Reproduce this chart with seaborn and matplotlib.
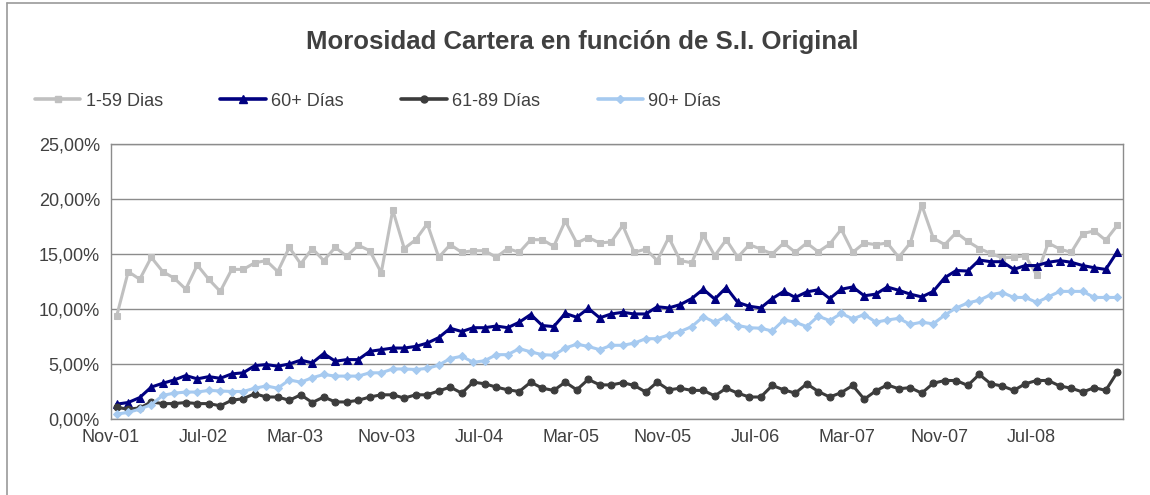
import matplotlib
matplotlib.use("Agg")
import matplotlib.pyplot as plt
from matplotlib.lines import Line2D
import seaborn as sns
import pandas as pd
import numpy as np

# ---- data (values in %) ----
months = ["Nov-01", "Jul-02", "Mar-03", "Nov-03", "Jul-04", "Mar-05",
          "Nov-05", "Jul-06", "Mar-07", "Nov-07", "Jul-08"]

d_1_59 = [9.4, 13.4, 12.7, 14.7, 13.4, 12.8, 11.8, 14.0, 12.7, 11.6,
          13.6, 13.6, 14.2, 14.4, 13.4, 15.6, 14.1, 15.5, 14.4, 15.6,
          14.8, 15.8, 15.3, 13.3, 19.0, 15.5, 16.3, 17.75, 14.7, 15.85,
          15.15, 15.3, 15.3, 14.7, 15.5, 15.15, 16.3, 16.3, 15.7, 18.0,
          16.0, 16.5, 16.0, 16.1, 17.6, 15.15, 15.45, 14.4, 16.5, 14.4,
          14.2, 16.7, 14.85, 16.3, 14.7, 15.85, 15.45, 15.0, 16.0, 15.15,
          16.0, 15.2, 15.9, 17.25, 15.15, 16.0, 15.85, 16.0, 14.7, 16.0,
          19.45, 16.45, 15.85, 16.95, 16.15, 15.5, 15.05, 14.65, 14.7, 14.85,
          13.1, 16.0, 15.45, 15.15, 16.85, 17.1, 16.25, 17.6]

d_60p = [1.35, 1.5, 1.95, 2.9, 3.25, 3.55, 3.95, 3.65, 3.85, 3.7,
         4.1, 4.2, 4.85, 4.95, 4.8, 5.0, 5.35, 5.1, 5.95, 5.25,
         5.4, 5.4, 6.15, 6.3, 6.45, 6.45, 6.6, 6.9, 7.4, 8.25,
         7.95, 8.3, 8.3, 8.45, 8.3, 8.8, 9.5, 8.5, 8.4, 9.6,
         9.25, 10.05, 9.2, 9.55, 9.7, 9.55, 9.55, 10.2, 10.1, 10.4,
         10.95, 11.8, 10.9, 11.95, 10.6, 10.25, 10.1, 10.95, 11.6, 11.05,
         11.55, 11.75, 10.95, 11.8, 12.0, 11.2, 11.35, 12.0, 11.7, 11.35,
         11.1, 11.6, 12.85, 13.5, 13.45, 14.45, 14.3, 14.3, 13.6, 13.95,
         13.95, 14.25, 14.4, 14.25, 13.95, 13.75, 13.6, 15.2]

d_61_89 = [1.05, 0.9, 1.0, 1.55, 1.4, 1.4, 1.5, 1.4, 1.4, 1.2,
           1.7, 1.85, 2.3, 2.0, 2.0, 1.7, 2.2, 1.5, 2.0, 1.55,
           1.55, 1.7, 2.0, 2.2, 2.2, 1.9, 2.2, 2.2, 2.55, 2.9,
           2.35, 3.35, 3.2, 2.9, 2.65, 2.5, 3.35, 2.8, 2.6, 3.35,
           2.65, 3.6, 3.1, 3.1, 3.3, 3.05, 2.45, 3.35, 2.65, 2.8,
           2.6, 2.6, 2.1, 2.8, 2.35, 2.0, 2.0, 3.05, 2.65, 2.35,
           3.2, 2.5, 2.0, 2.4, 3.05, 1.8, 2.55, 3.1, 2.75, 2.85,
           2.35, 3.25, 3.5, 3.5, 3.05, 4.05, 3.2, 3.0, 2.6, 3.2,
           3.5, 3.5, 3.0, 2.8, 2.45, 2.85, 2.6, 4.25]

d_90p = [0.45, 0.6, 0.9, 1.3, 2.15, 2.35, 2.45, 2.45, 2.6, 2.55,
         2.5, 2.5, 2.8, 3.0, 2.8, 3.55, 3.35, 3.75, 4.05, 3.9,
         3.9, 3.9, 4.2, 4.2, 4.55, 4.55, 4.5, 4.6, 4.9, 5.5,
         5.7, 5.15, 5.3, 5.85, 5.85, 6.4, 6.1, 5.85, 5.8, 6.45,
         6.8, 6.6, 6.3, 6.7, 6.7, 6.9, 7.3, 7.3, 7.65, 7.95,
         8.4, 9.3, 8.8, 9.3, 8.5, 8.3, 8.25, 8.0, 9.0, 8.8,
         8.4, 9.35, 8.95, 9.6, 9.1, 9.5, 8.8, 9.0, 9.15, 8.6,
         8.8, 8.65, 9.45, 10.1, 10.55, 10.8, 11.3, 11.5, 11.05, 11.05,
         10.6, 11.1, 11.6, 11.6, 11.6, 11.05, 11.05, 11.05]

series_names = ["1-59 Dias", "60+ Días", "61-89 Días", "90+ Días"]
y_ticks = [0, 5, 10, 15, 20, 25]

# ---- style ----
sns.set_theme(style="white")
plt.rcParams["font.family"] = ["Liberation Sans", "DejaVu Sans"]
TXT = "#404040"
GRID = "#8c8c8c"

fig = plt.figure(figsize=(11.5, 4.95), dpi=100)
ax = fig.add_axes([111 / 1150, 1 - 419 / 495, (1123 - 111) / 1150, (419 - 144) / 495])

idx = np.arange(len(d_1_59))
styles = [
    (d_1_59, "#c0c0c0", "s", 5.0),
    (d_60p, "#000080", "^", 6.0),
    (d_61_89, "#3c3c3c", "o", 5.0),
    (d_90p, "#a6caf0", "D", 4.2),
]
handles = []
for (vals, col, mk, ms), name in zip(styles, series_names):
    sns.lineplot(x=idx, y=vals, ax=ax, color=col, marker=mk, markersize=ms,
                 markeredgecolor=col, markerfacecolor=col, linewidth=2.2,
                 legend=False)
    handles.append(Line2D([0], [0], color=col, marker=mk, markersize=ms,
                          markeredgecolor=col, markerfacecolor=col,
                          linewidth=2.6, label=name))

ax.set_xlim(-0.5, len(idx) - 0.5)
ax.set_ylim(0, 25)
ax.set_yticks(y_ticks)
ax.set_yticklabels([f"{v:.2f}".replace(".", ",") + "%" for v in y_ticks])
tick_pos = [-0.5 + 8 * k for k in range(12)]
ax.set_xticks(tick_pos)
ax.set_xticklabels(months + [""])
ax.set_xlabel("")
ax.set_ylabel("")

ax.yaxis.grid(True, color=GRID, linewidth=1.0)
ax.xaxis.grid(False)
ax.set_axisbelow(True)
for s in ax.spines.values():
    s.set_color(GRID)
    s.set_linewidth(1.0)
ax.tick_params(axis="both", which="major", direction="out", length=5,
               width=1.0, color=GRID, labelsize=13, labelcolor=TXT)
ax.tick_params(axis="x", pad=2)
ax.tick_params(axis="y", pad=3)

fig.text(0.506, 1 - 42 / 495, "Morosidad Cartera en función de S.I. Original",
         ha="center", va="center", fontsize=18.5, fontweight="bold", color=TXT)

leg = fig.legend(handles=handles, loc="center left",
                 bbox_to_anchor=(35 / 1150, 1 - 101 / 495), ncol=4,
                 frameon=False, fontsize=13, handlelength=2.5,
                 handletextpad=0.3, columnspacing=3.2, borderpad=0,
                 borderaxespad=0)
for t in leg.get_texts():
    t.set_color(TXT)

# chart-area border (left and top visible in reference)
fig.add_artist(Line2D([7 / 1150, 7 / 1150], [0, 1 - 3 / 495],
                      transform=fig.transFigure, color="#9a9a9a", linewidth=1.2))
fig.add_artist(Line2D([7 / 1150, 1], [1 - 3 / 495, 1 - 3 / 495],
                      transform=fig.transFigure, color="#9a9a9a", linewidth=1.2))

fig.savefig("out.png", dpi=100)
